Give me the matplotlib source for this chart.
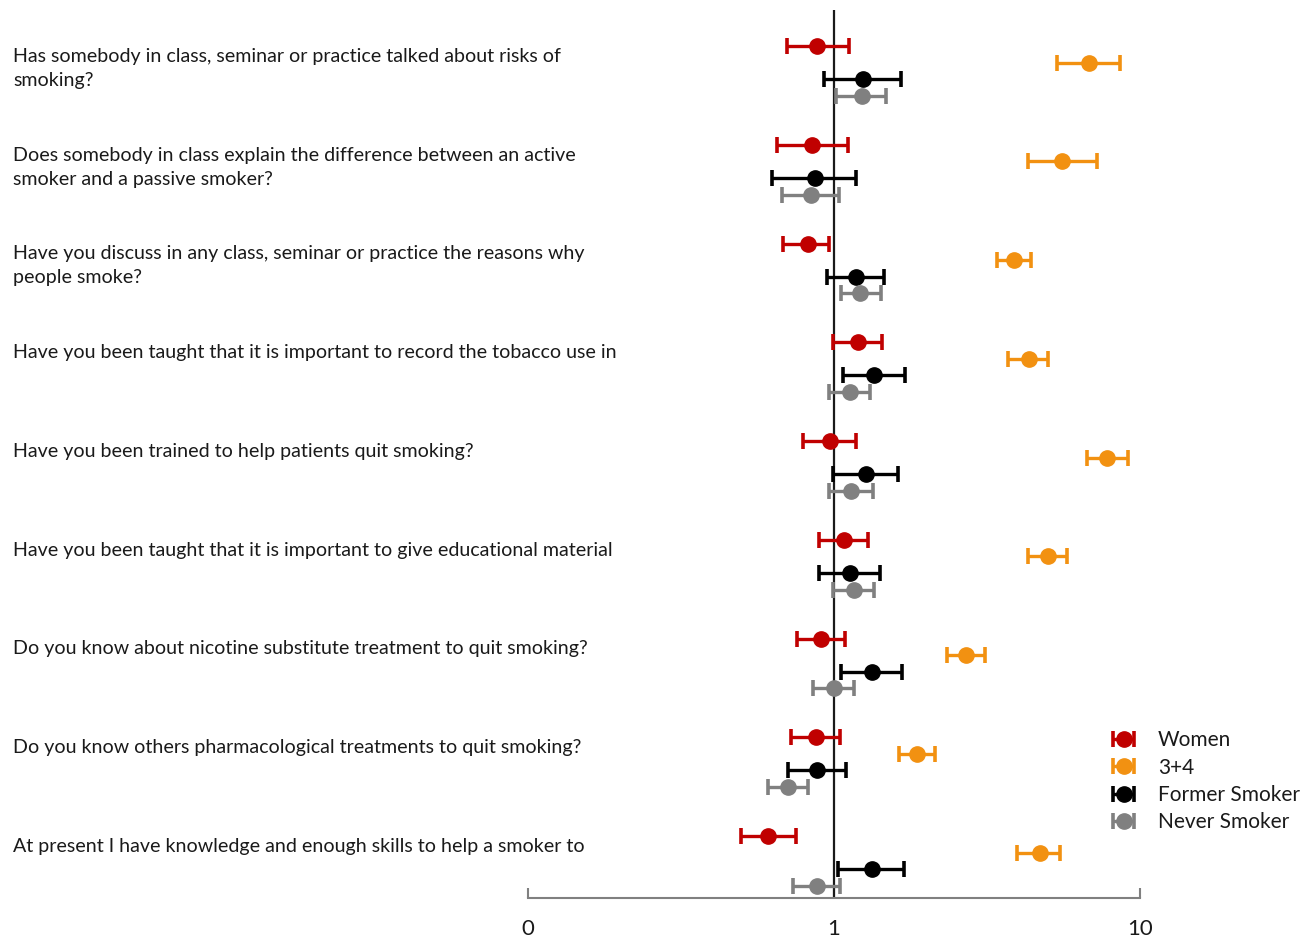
import matplotlib
matplotlib.use("Agg")
import matplotlib.pyplot as plt
import numpy as np
from matplotlib.ticker import FixedLocator, FixedFormatter, NullLocator

questions = [
    "Has somebody in class, seminar or practice talked about risks of\nsmoking?",
    "Does somebody in class explain the difference between an active\nsmoker and a passive smoker?",
    "Have you discuss in any class, seminar or practice the reasons why\npeople smoke?",
    "Have you been taught that it is important to record the tobacco use in",
    "Have you been trained to help patients quit smoking?",
    "Have you been taught that it is important to give educational material",
    "Do you know about nicotine substitute treatment to quit smoking?",
    "Do you know others pharmacological treatments to quit smoking?",
    "At present I have knowledge and enough skills to help a smoker to",
]

series_names = ["Women", "3+4", "Former Smoker", "Never Smoker"]
series_colors = ["#C00000", "#F29111", "#000000", "#808080"]

women_or = [0.88, 0.85, 0.82, 1.20, 0.97, 1.08, 0.905, 0.875, 0.61]
women_lo = [0.70, 0.65, 0.68, 0.99, 0.79, 0.895, 0.757, 0.725, 0.497]
women_hi = [1.12, 1.11, 0.965, 1.44, 1.18, 1.29, 1.09, 1.046, 0.753]

y34_or = [6.81, 5.57, 3.87, 4.33, 7.82, 4.99, 2.69, 1.87, 4.70]
y34_lo = [5.37, 4.30, 3.40, 3.70, 6.73, 4.30, 2.34, 1.63, 3.97]
y34_hi = [8.62, 7.22, 4.41, 5.00, 9.12, 5.79, 3.11, 2.14, 5.48]

former_or = [1.24, 0.867, 1.18, 1.35, 1.27, 1.13, 1.33, 0.882, 1.33]
former_lo = [0.927, 0.629, 0.947, 1.07, 0.993, 0.895, 1.056, 0.707, 1.033]
former_hi = [1.66, 1.18, 1.46, 1.71, 1.62, 1.41, 1.67, 1.094, 1.69]

never_or = [1.23, 0.84, 1.22, 1.13, 1.14, 1.16, 1.00, 0.706, 0.88]
never_lo = [1.015, 0.678, 1.056, 0.965, 0.965, 0.995, 0.852, 0.607, 0.736]
never_hi = [1.48, 1.036, 1.42, 1.31, 1.34, 1.35, 1.16, 0.824, 1.046]

xticks = [0.1, 1, 10]
xticklabels = ["0", "1", "10"]

FONT = ["Lato", "DejaVu Sans"]
plt.rcParams["font.family"] = FONT

W, H = 1316, 939
fig = plt.figure(figsize=(W / 100, H / 100), dpi=100)

ax_left, ax_right = 528 / W, 1140 / W
ax_top, ax_bot = 1 - 10 / H, 1 - 898 / H
ax = fig.add_axes([ax_left, ax_bot, ax_right - ax_left, ax_top - ax_bot])

row_step = 98.75
sub_step = 16.6 / row_step
y_top = (10 - 46) / row_step
y_bot = (898 - 46) / row_step

all_or = [women_or, y34_or, former_or, never_or]
all_lo = [women_lo, y34_lo, former_lo, never_lo]
all_hi = [women_hi, y34_hi, former_hi, never_hi]

rows = np.arange(len(questions))
for j, (name, col) in enumerate(zip(series_names, series_colors)):
    o = np.array(all_or[j]); lo = np.array(all_lo[j]); hi = np.array(all_hi[j])
    ax.errorbar(o, rows + j * sub_step, xerr=[o - lo, hi - o], fmt="o", color=col,
                ecolor=col, markersize=11, elinewidth=2.4, capsize=5.5, capthick=2.6,
                label=name, zorder=3)

ax.set_xscale("log")
ax.set_xlim(0.1, 10)
ax.set_ylim(y_bot, y_top)
ax.axvline(1, color="#1a1a1a", lw=1.6, zorder=2)

for s in ["top", "left", "right"]:
    ax.spines[s].set_visible(False)
ax.spines["bottom"].set_color("#808080")
ax.spines["bottom"].set_linewidth(1.5)
ax.xaxis.set_major_locator(FixedLocator(xticks))
ax.xaxis.set_major_formatter(FixedFormatter(xticklabels))
ax.xaxis.set_minor_locator(NullLocator())
ax.tick_params(axis="x", direction="in", length=7, width=1.5, color="#808080",
               labelsize=16, labelcolor="#1a1a1a", pad=15)
ax.set_yticks([])

# question labels
for i, q in enumerate(questions):
    ypix = 46 + row_step * i + 8.8
    fig.text(13 / W, 1 - (ypix - 7) / H, q, ha="left", va="top",
             fontsize=14.1, color="#1a1a1a", linespacing=1.5)

leg = fig.legend(loc="upper left", bbox_to_anchor=(1108 / W, 1 - 730 / H),
                 frameon=False, fontsize=15, handlelength=1.5, handletextpad=0.9,
                 labelspacing=0.36, borderpad=0, borderaxespad=0)
for t in leg.get_texts():
    t.set_color("#1a1a1a")

fig.savefig("out.png", dpi=100)
